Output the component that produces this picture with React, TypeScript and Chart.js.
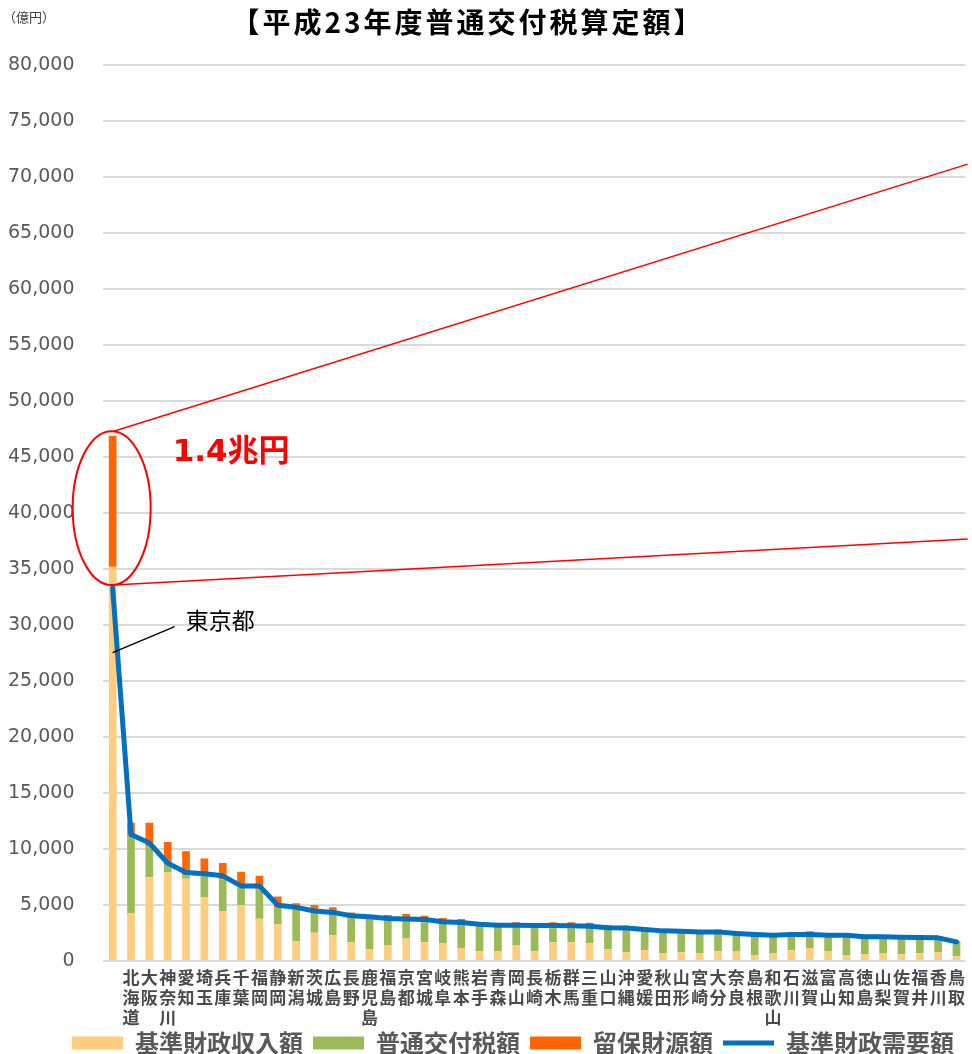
import React, { useEffect, useRef } from 'react';
import { Chart, registerables } from 'chart.js';

Chart.register(...registerables);

const categories = [
  '', '北海道', '大阪', '神奈川', '愛知', '埼玉', '兵庫', '千葉', '福岡', '静岡',
  '新潟', '茨城', '広島', '長野', '鹿児島', '福島', '京都', '宮城', '岐阜', '熊本',
  '岩手', '青森', '岡山', '長崎', '栃木', '群馬', '三重', '山口', '沖縄', '愛媛',
  '秋田', '山形', '宮崎', '大分', '奈良', '島根', '和歌山', '石川', '滋賀', '富山',
  '高知', '徳島', '山梨', '佐賀', '福井', '香川', '鳥取',
];

// 基準財政収入額
const revenue = [
  35200, 4250, 7485, 7900, 7335, 5720, 4460, 4970, 3770, 3290,
  1765, 2515, 2305, 1675, 1080, 1435, 2005, 1705, 1555, 1170,
  870, 900, 1435, 870, 1675, 1675, 1615, 1050, 780, 990,
  660, 780, 720, 870, 900, 480, 660, 960, 1170, 900,
  480, 600, 720, 600, 690, 810, 420,
];

// 普通交付税額
const grant = [
  0, 7000, 2755, 700, 300, 1880, 2840, 1600, 2630, 1500,
  2850, 1800, 1850, 2150, 2660, 2200, 1600, 1750, 1750, 2150,
  2250, 2200, 1555, 2200, 1240, 1240, 1260, 1800, 2100, 1650,
  1950, 1800, 1750, 1650, 1450, 1800, 1550, 1300, 1100, 1300,
  1700, 1450, 1350, 1400, 1350, 1150, 1200,
];

// 留保財源額
const reserve = [
  11700, 1085, 2095, 2030, 2155, 1560, 1440, 1395, 1205, 960,
  535, 685, 635, 515, 360, 465, 585, 585, 525, 420,
  290, 300, 480, 290, 555, 555, 535, 350, 260, 320,
  220, 260, 240, 290, 300, 160, 220, 320, 390, 300,
  160, 200, 240, 200, 230, 270, 140,
];

// 基準財政需要額
const demand = [
  33300, 11290, 10540, 8740, 7900, 7785, 7605, 6705, 6705, 4970,
  4790, 4460, 4340, 4040, 3950, 3800, 3750, 3700, 3500, 3440,
  3290, 3200, 3200, 3170, 3170, 3140, 3110, 2960, 2950, 2810,
  2690, 2660, 2600, 2600, 2455, 2365, 2305, 2365, 2365, 2305,
  2305, 2155, 2155, 2125, 2095, 2065, 1705,
];

const seriesNames = ['基準財政収入額', '普通交付税額', '留保財源額', '基準財政需要額'];
const titleText = '【平成23年度普通交付税算定額】';
const unitText = '（億円）';

// annotation values (y-axis units)
const ellipseTop = 47300;
const ellipseBottom = 33570;
const upperLineEnd = 71150;
const lowerLineEnd = 37680;
const calloutValue = 45350;
const calloutText = '1.4兆円';
const tokyoLabel = '東京都';
const tokyoLabelValue = 30450;
const leaderFrom = 27530;
const leaderTo = 29850;

const CJK = '"Noto Sans CJK JP", "Noto Sans", sans-serif';
const LATIN = '"DejaVu Sans", "Noto Sans CJK JP", sans-serif';

const annotationPlugin = {
  id: 'annotations',
  afterLayout(chart: any) {
    // shift the legend row to sit under the plot like the reference
    const lg = chart.legend;
    if (lg) {
      lg.left += 23;
      lg.right += 23;
      lg.top -= 7;
      lg.bottom -= 7;
    }
  },
  afterDraw(chart: any) {
    const ctx = chart.ctx as CanvasRenderingContext2D;
    const xs = chart.scales.x;
    const ys = chart.scales.y;
    const area = chart.chartArea;
    const tx = xs.getPixelForValue(0);

    ctx.save();
    // title
    ctx.fillStyle = '#000';
    ctx.font = `bold 28px ${CJK}`;
    ctx.textAlign = 'center';
    ctx.textBaseline = 'middle';
    try { (ctx as any).letterSpacing = '3px'; } catch (e) {}
    ctx.fillText(titleText, 468, 22);
    try { (ctx as any).letterSpacing = '0px'; } catch (e) {}

    // unit
    ctx.font = `13px ${CJK}`;
    ctx.fillStyle = '#404040';
    ctx.textAlign = 'left';
    ctx.fillText(unitText, 3, 17);

    // ellipse + lines
    const yTop = ys.getPixelForValue(ellipseTop);
    const yBot = ys.getPixelForValue(ellipseBottom);
    ctx.strokeStyle = '#FF0000';
    ctx.lineWidth = 2;
    ctx.beginPath();
    ctx.ellipse(tx - 1, (yTop + yBot) / 2, 39, (yBot - yTop) / 2, 0, 0, Math.PI * 2);
    ctx.stroke();
    ctx.lineWidth = 1.5;
    ctx.beginPath();
    ctx.moveTo(tx + 1, yTop);
    ctx.lineTo(area.right + 2, ys.getPixelForValue(upperLineEnd));
    ctx.moveTo(tx + 1, yBot);
    ctx.lineTo(area.right + 2, ys.getPixelForValue(lowerLineEnd));
    ctx.stroke();

    // callout
    ctx.fillStyle = '#FF0000';
    ctx.font = `bold 31px ${LATIN}`;
    ctx.textBaseline = 'middle';
    ctx.fillText(calloutText, tx + 60, ys.getPixelForValue(calloutValue));

    // Tokyo label
    ctx.fillStyle = '#000';
    ctx.font = `23px ${CJK}`;
    ctx.fillText(tokyoLabel, tx + 73, ys.getPixelForValue(tokyoLabelValue));
    ctx.strokeStyle = '#000';
    ctx.lineWidth = 1.5;
    ctx.beginPath();
    ctx.moveTo(tx, ys.getPixelForValue(leaderFrom));
    ctx.lineTo(tx + 62, ys.getPixelForValue(leaderTo));
    ctx.stroke();
    ctx.restore();
  },
};

export default function App() {
  const ref = useRef<HTMLCanvasElement>(null);

  useEffect(() => {
    document.body.style.margin = '0';
    const canvas = ref.current;
    if (!canvas) return;
    const chart = new Chart(canvas, {
      type: 'bar',
      data: {
        labels: categories.map((c) => c.split('')),
        datasets: [
          {
            type: 'bar',
            label: seriesNames[0],
            data: revenue,
            backgroundColor: '#FFCC80',
            stack: 's',
            order: 1,
            pointStyle: 'rect',
          } as any,
          {
            type: 'bar',
            label: seriesNames[1],
            data: grant,
            backgroundColor: '#9BBB59',
            stack: 's',
            order: 1,
            pointStyle: 'rect',
          },
          {
            type: 'bar',
            label: seriesNames[2],
            data: reserve,
            backgroundColor: '#FF6600',
            stack: 's',
            order: 1,
            pointStyle: 'rect',
          },
          {
            type: 'line',
            label: seriesNames[3],
            data: demand,
            borderColor: '#0070C0',
            backgroundColor: '#0070C0',
            borderWidth: 5,
            pointRadius: 0,
            tension: 0,
            stack: 'line',
            order: 0,
            pointStyle: 'line',
            borderCapStyle: 'round',
            borderJoinStyle: 'round',
          },
        ],
      },
      options: {
        responsive: false,
        animation: false,
        devicePixelRatio: 1,
        datasets: { bar: { barPercentage: 0.42, categoryPercentage: 1 } },
        layout: { padding: { top: 65, left: 8, right: 0, bottom: 0 } },
        scales: {
          x: {
            stacked: true,
            grid: { display: false, drawTicks: false },
            border: { display: false },
            ticks: {
              autoSkip: false,
              maxRotation: 0,
              minRotation: 0,
              padding: 7,
              color: '#4A4A4A',
              font: { family: CJK, size: 17, weight: 'bold', lineHeight: '20px' },
            },
            afterFit: (scale: any) => { scale.height -= 7; },
          },
          y: {
            stacked: true,
            min: 0,
            max: 80000,
            grid: { color: '#D9D9D9', lineWidth: 2, drawTicks: false },
            border: { display: false },
            ticks: {
              stepSize: 5000,
              padding: 29,
              color: '#595959',
              font: { family: LATIN, size: 19 },
              callback: (v: any) => Number(v).toLocaleString('en-US'),
            },
            afterFit: (scale: any) => { scale.width -= 29; },
          },
        },
        plugins: {
          title: { display: false },
          tooltip: { enabled: false },
          legend: {
            position: 'bottom',
            labels: {
              usePointStyle: true,
              pointStyleWidth: 51,
              boxHeight: 13,
              padding: 10,
              color: '#595959',
              font: { family: CJK, size: 24, weight: 'bold' },
              sort: (a: any, b: any) => a.datasetIndex - b.datasetIndex,
            },
          },
        },
      } as any,
      plugins: [annotationPlugin],
    });
    return () => chart.destroy();
  }, []);

  return (
    <div style={{ width: 972, height: 1054, overflow: 'hidden', position: 'relative' }}>
      <canvas ref={ref} width={972} height={1072} style={{ display: 'block' }} />
    </div>
  );
}
